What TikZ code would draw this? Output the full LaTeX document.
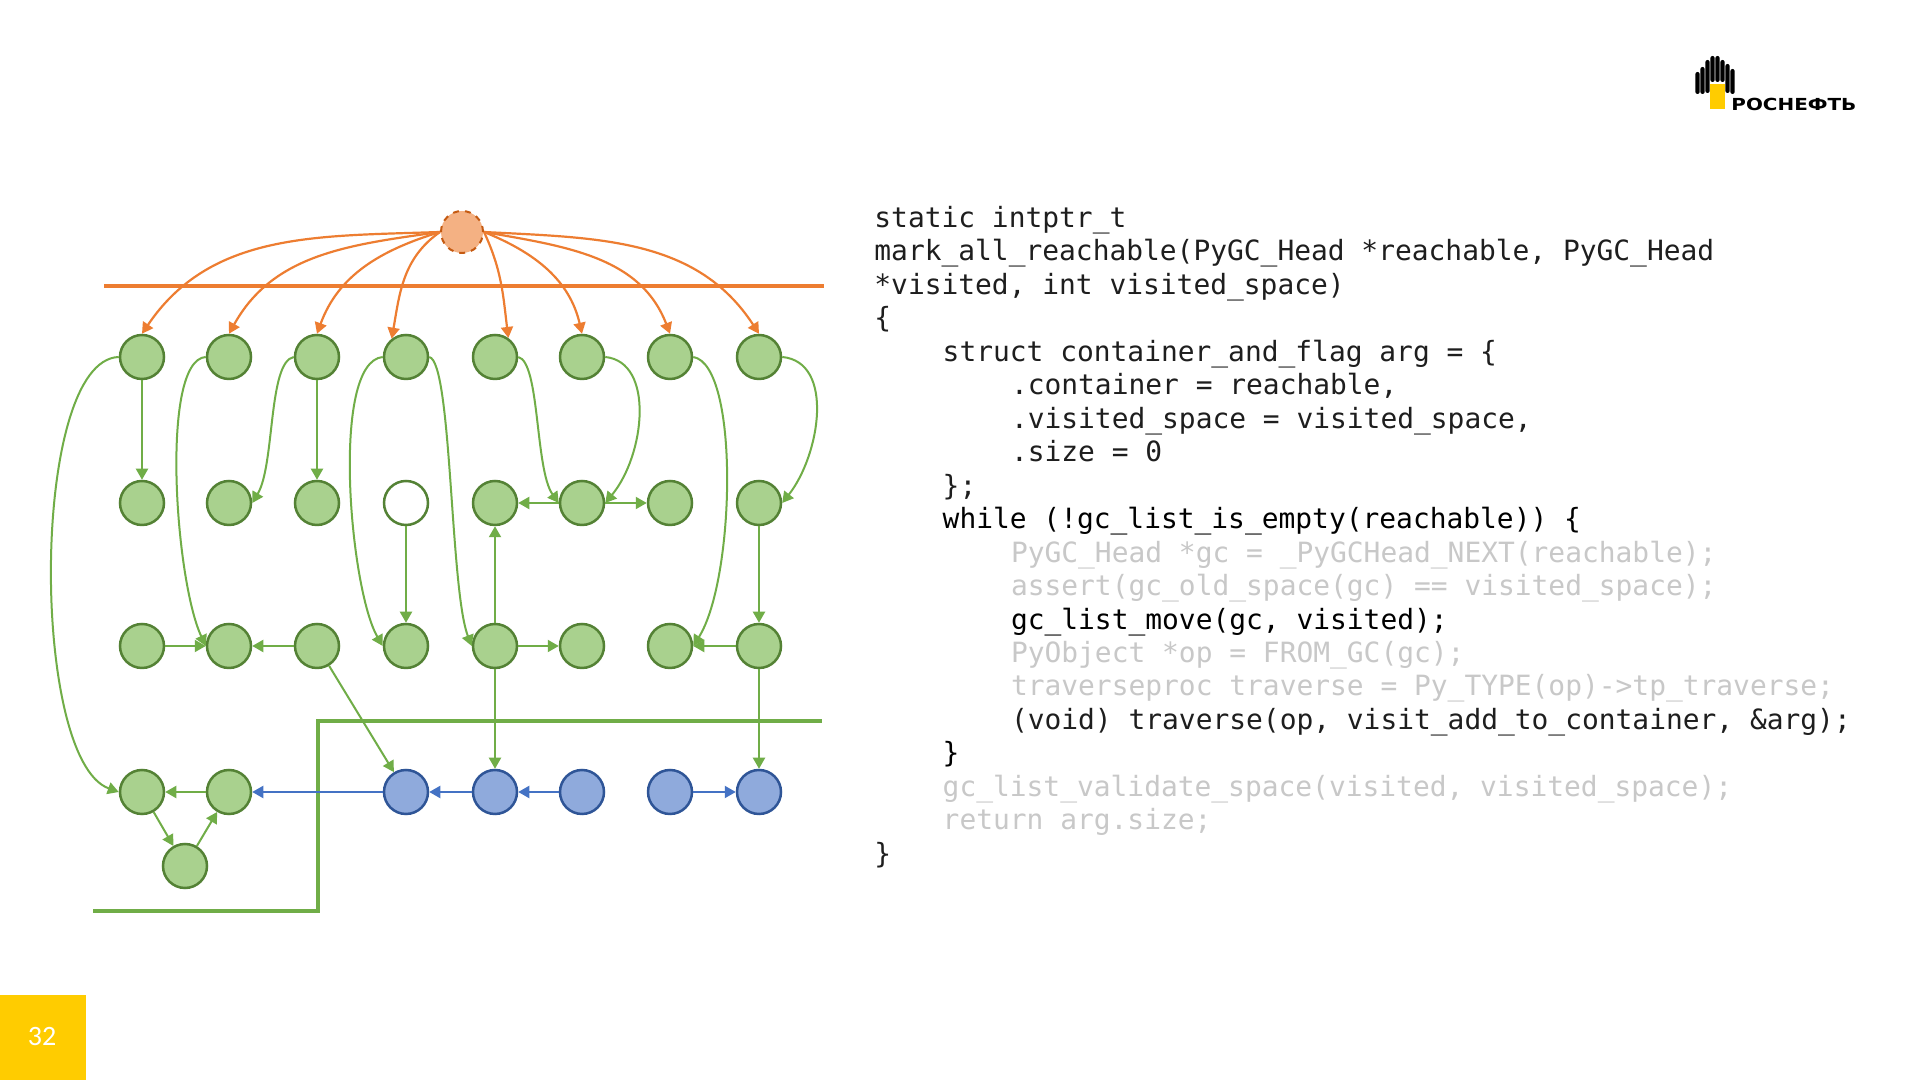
\documentclass[tikz,border=0pt]{standalone}
\usepackage{fontspec}
\usepackage{graphicx}
\setmainfont{Carlito}
\newfontfamily\codefont{DejaVu Sans Mono}
\newfontfamily\logofont{DejaVu Sans}
\usetikzlibrary{arrows.meta}
\definecolor{gfill}{HTML}{A9D18E}
\definecolor{gdraw}{HTML}{548235}
\definecolor{gline}{HTML}{70AD47}
\definecolor{bfill}{HTML}{8FAADC}
\definecolor{bdraw}{HTML}{2F5597}
\definecolor{bline}{HTML}{4472C4}
\definecolor{ofill}{HTML}{F4B183}
\definecolor{odraw}{HTML}{C55A11}
\definecolor{oline}{HTML}{ED7D31}
\definecolor{darktxt}{HTML}{1E1E1E}
\definecolor{greytxt}{HTML}{C8C8C8}
\definecolor{pageyel}{HTML}{FFCC00}
\begin{document}
\begin{tikzpicture}[x=0.5pt,y=0.5pt,
  gnode/.style={circle,draw=gdraw,fill=gfill,line width=1.25pt,minimum size=22pt,inner sep=0pt},
  wnode/.style={gnode,fill=white},
  bnode/.style={circle,draw=bdraw,fill=bfill,line width=1.25pt,minimum size=22pt,inner sep=0pt},
  onode/.style={circle,draw=odraw,fill=ofill,line width=1pt,dashed,minimum size=21pt,inner sep=0pt},
  ge/.style={draw=gline,line width=1pt,-{Triangle[length=5.5pt,width=6pt]}},
  be/.style={draw=bline,line width=1pt,-{Triangle[length=5.5pt,width=6pt]}},
  oe/.style={draw=oline,line width=1.1pt,-{Triangle[length=5.5pt,width=6pt]}},
  code/.style={anchor=base west,inner sep=0pt,font={\codefont\fontsize{13.95pt}{16pt}\selectfont}},
  dk/.style={code,text=darktxt},
  bk/.style={code,text=black},
  gr/.style={code,text=greytxt}
]
\useasboundingbox (0,0) rectangle (1920,1080);
\fill[white] (0,0) rectangle (1920,1080);

% separator lines
\draw[oline,line width=2pt] (104,794) -- (824,794);
\draw[gline,line width=2pt] (93,169) -- (318,169) -- (318,359) -- (822,359);

% orange root
\node[onode] (o) at (462,848) {};

% row 1
\node[gnode] (n11) at (142,723) {};
\node[gnode] (n12) at (229,723) {};
\node[gnode] (n13) at (317,723) {};
\node[gnode] (n14) at (406,723) {};
\node[gnode] (n15) at (495,723) {};
\node[gnode] (n16) at (582,723) {};
\node[gnode] (n17) at (670,723) {};
\node[gnode] (n18) at (759,723) {};
% row 2
\node[gnode] (n21) at (142,577) {};
\node[gnode] (n22) at (229,577) {};
\node[gnode] (n23) at (317,577) {};
\node[wnode] (n24) at (406,577) {};
\node[gnode] (n25) at (495,577) {};
\node[gnode] (n26) at (582,577) {};
\node[gnode] (n27) at (670,577) {};
\node[gnode] (n28) at (759,577) {};
% row 3
\node[gnode] (n31) at (142,434) {};
\node[gnode] (n32) at (229,434) {};
\node[gnode] (n33) at (317,434) {};
\node[gnode] (n34) at (406,434) {};
\node[gnode] (n35) at (495,434) {};
\node[gnode] (n36) at (582,434) {};
\node[gnode] (n37) at (670,434) {};
\node[gnode] (n38) at (759,434) {};
% row 4
\node[gnode] (n41) at (142,288) {};
\node[gnode] (n42) at (229,288) {};
\node[bnode] (n44) at (406,288) {};
\node[bnode] (n45) at (495,288) {};
\node[bnode] (n46) at (582,288) {};
\node[bnode] (n47) at (670,288) {};
\node[bnode] (n48) at (759,288) {};
\node[gnode] (n5) at (185,214) {};

% orange edges
\draw[oe] (o.west) to[out=182,in=56] (n11.north);
\draw[oe] (o.west) to[out=188,in=61] (n12.north);
\draw[oe] (o.west) to[out=197,in=70] (n13.north);
\draw[oe] (o.west) to[out=215,in=80] (n14.128);
\draw[oe] (o.east) to[out=-65,in=97] (n15.55);
\draw[oe] (o.east) to[out=-22,in=103] (n16.north);
\draw[oe] (o.east) to[out=-10,in=111] (n17.north);
\draw[oe] (o.east) to[out=-3,in=123] (n18.north);

% green curved edges
\draw[ge] (n11.west) .. controls (30,720) and (30,320) .. (n41.west);
\draw[ge] (n12.west) .. controls (160,720) and (175,500) .. (n32.west);
\draw[ge] (n13.west) .. controls (268,718) and (275,615) .. (n22.east);
\draw[ge] (n14.west) .. controls (330,718) and (350,490) .. (n34.west);
\draw[ge] (n14.east) .. controls (452,718) and (450,490) .. (n35.west);
\draw[ge] (n15.east) .. controls (540,718) and (535,610) .. (n26.west);
\draw[ge] (n16.east) .. controls (655,718) and (645,625) .. (n26.east);
\draw[ge] (n17.east) .. controls (740,715) and (735,500) .. (n37.east);
\draw[ge] (n18.east) .. controls (835,718) and (820,625) .. (n28.east);

% green straight edges
\draw[ge] (n11) -- (n21);
\draw[ge] (n13) -- (n23);
\draw[ge] (n24) -- (n34);
\draw[ge] (n35) -- (n25);
\draw[ge] (n26) -- (n25);
\draw[ge] (n26) -- (n27);
\draw[ge] (n28) -- (n38);
\draw[ge] (n31) -- (n32);
\draw[ge] (n33) -- (n32);
\draw[ge] (n33) -- (n44);
\draw[ge] (n35) -- (n36);
\draw[ge] (n35) -- (n45);
\draw[ge] (n38) -- (n37);
\draw[ge] (n38) -- (n48);
\draw[ge] (n42) -- (n41);
\draw[ge] (n41) -- (n5);
\draw[ge] (n5) -- (n42);

% blue edges
\draw[be] (n44) -- (n42);
\draw[be] (n45) -- (n44);
\draw[be] (n46) -- (n45);
\draw[be] (n47) -- (n48);

% code
\node[dk] (l1) at (874,852.7) {static intptr\_t};
\node[dk] (l2) at (874,819.2) {mark\_all\_reachable(PyGC\_Head *reachable, PyGC\_Head};
\node[dk] (l3) at (874,785.7) {*visited, int visited\_space)};
\node[dk] (l4) at (874,752.3) {\{};
\node[dk] (l5) at (942.3,718.8) {struct container\_and\_flag arg = \{};
\node[dk] (l6) at (1010.6,685.3) {.container = reachable,};
\node[dk] (l7) at (1010.6,651.8) {.visited\_space = visited\_space,};
\node[dk] (l8) at (1010.6,618.3) {.size = 0};
\node[dk] (l9) at (942.3,584.9) {\};};
\node[bk] (l10) at (942.3,551.4) {while (!gc\_list\_is\_empty(reachable)) \{};
\node[gr] (l11) at (1010.6,517.9) {PyGC\_Head *gc = \_PyGCHead\_NEXT(reachable);};
\node[gr] (l12) at (1010.6,484.4) {assert(gc\_old\_space(gc) == visited\_space);};
\node[bk] (l13) at (1010.6,450.9) {gc\_list\_move(gc, visited);};
\node[gr] (l14) at (1010.6,417.5) {PyObject *op = FROM\_GC(gc);};
\node[gr] (l15) at (1010.6,384.0) {traverseproc traverse = Py\_TYPE(op)->tp\_traverse;};
\node[dk] (l16) at (1010.6,350.5) {(void) traverse(op, visit\_add\_to\_container, \&arg);};
\node[bk] (l17) at (942.3,317.0) {\}};
\node[gr] (l18) at (942.3,283.5) {gc\_list\_validate\_space(visited, visited\_space);};
\node[gr] (l19) at (942.3,250.1) {return arg.size;};
\node[dk] (l20) at (874,216.6) {\}};

% page number
\fill[pageyel] (0,0) rectangle (86,85);
\node[text=white,font={\fontsize{14pt}{16pt}\selectfont},inner sep=0pt] (pg) at (42,43) {32};

% logo
\foreach \xc/\tp/\bt in {1697.5/72/94,1702.5/67/94,1707.5/60/93,1712.5/56/82,1717.5/56/82,1722.5/60/82,1727.5/64/93,1732.5/69/94}{
  \fill[black,rounded corners=1pt] (\xc-2.1,1080-\bt) rectangle (\xc+2.1,1080-\tp);
}
\foreach \xc in {1712.5,1717.5,1722.5}{
  \fill[pageyel] (\xc-2.1,1080-109) rectangle (\xc+2.1,1080-84);
}
\node[anchor=base west,inner sep=0pt,font={\logofont\bfseries\fontsize{8.3pt}{9pt}\selectfont}] (logo) at (1731,969) {\scalebox{1.2}[1]{РОСНЕФТЬ}};
\end{tikzpicture}
\end{document}
